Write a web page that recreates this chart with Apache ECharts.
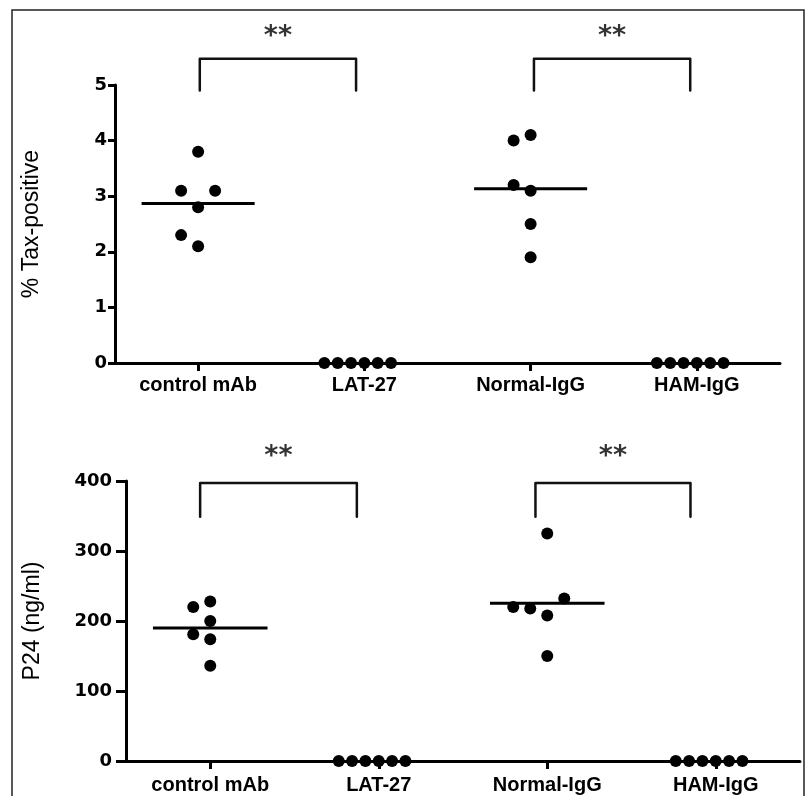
<!DOCTYPE html>
<html>
<head>
<meta charset="utf-8">
<script src="https://cdn.jsdelivr.net/npm/echarts@6/dist/echarts.min.js"></script>
<style>
html, body { margin: 0; padding: 0; background: #fff; }
#main { width: 807px; height: 796px; }
</style>
</head>
<body>
<div id="main"></div>
<script>
// groups on both panels
var groups = ['control mAb', 'LAT-27', 'Normal-IgG', 'HAM-IgG'];

// top panel: % Tax-positive
var taxControl = [3.8, 2.8, 3.1, 3.1, 2.1, 2.3];
var taxLat = [0, 0, 0, 0, 0, 0];
var taxNormal = [4.1, 4.0, 3.1, 3.2, 2.5, 1.9];
var taxHam = [0, 0, 0, 0, 0, 0];
var taxTicks = [0, 1, 2, 3, 4, 5];

// bottom panel: P24 (ng/ml)
var p24Control = [228, 220, 200, 174, 181, 136];
var p24Lat = [0, 0, 0, 0, 0, 0];
var p24Normal = [325, 208, 218, 232, 220, 150];
var p24Ham = [0, 0, 0, 0, 0, 0];
var p24Ticks = [0, 100, 200, 300, 400];

// significance brackets: [x from, x to] in group units, [leg bottom, top] in y units
var taxBracketX = [[0.01, 0.95], [2.02, 2.96]];
var taxBracketY = [4.9, 5.47];
var taxStarY = 5.86;
var p24BracketX = [[-0.06, 0.87], [1.93, 2.85]];
var p24BracketY = [349, 397];
var p24StarY = 434;

var taxGroups = [taxControl, taxLat, taxNormal, taxHam];
var p24Groups = [p24Control, p24Lat, p24Normal, p24Ham];

var chart = echarts.init(document.getElementById('main'));

function mean(a) {
  var s = 0;
  a.forEach(function (v) { s += v; });
  return s / a.length;
}

function meanLines(sets, xIdx, yIdx) {
  var out = [];
  sets.forEach(function (vals, g) {
    var m = mean(vals);
    if (m <= 0) return;
    out.push({
      type: 'line', xAxisIndex: xIdx, yAxisIndex: yIdx,
      data: [[g - 0.34, m], [g + 0.34, m]],
      symbol: 'none', silent: true, z: 3,
      lineStyle: { color: '#000', width: 3 }
    });
  });
  return out;
}

function brackets(bx, by, starY, xIdx, yIdx) {
  var out = [];
  bx.forEach(function (b) {
    out.push({
      type: 'line', xAxisIndex: xIdx, yAxisIndex: yIdx, clip: false,
      data: [[b[0], by[0]], [b[0], by[1]], [b[1], by[1]], [b[1], by[0]]],
      symbol: 'none', silent: true,
      lineStyle: { color: '#111', width: 2.5, join: 'round', cap: 'round' }
    });
    out.push({
      type: 'scatter', xAxisIndex: xIdx, yAxisIndex: yIdx, clip: false,
      data: [[(b[0] + b[1]) / 2, starY]], symbolSize: 0, silent: true,
      label: {
        show: true, position: 'inside', formatter: '**',
        fontFamily: 'DejaVu Sans', fontWeight: 'bold', fontSize: 27, color: '#000'
      }
    });
  });
  return out;
}

function points(sets, offsets) {
  var d = [];
  sets.forEach(function (vals, g) {
    vals.forEach(function (v, i) {
      d.push([g + (offsets ? offsets[g][i] : 0), v]);
    });
  });
  return d;
}

var catAxis = function (gridIndex, margin) {
  return {
    type: 'category', gridIndex: gridIndex, data: groups, boundaryGap: true,
    axisLine: { show: true, onZero: false, lineStyle: { color: '#000', width: 3 } },
    axisTick: { show: true, alignWithLabel: true, length: 8, lineStyle: { color: '#000', width: 3 } },
    axisLabel: {
      margin: margin, color: '#000', fontFamily: 'Liberation Sans',
      fontWeight: 'bold', fontSize: 20
    }
  };
};

var valXAxis = function (gridIndex) {
  return { type: 'value', gridIndex: gridIndex, min: -0.5, max: 3.5, show: false };
};

var valYAxis = function (gridIndex, max, interval, name, nameGap, tickLen, margin) {
  return {
    type: 'value', gridIndex: gridIndex, min: 0, max: max, interval: interval,
    name: name, nameLocation: 'middle', nameGap: nameGap,
    nameTextStyle: { fontFamily: 'Liberation Sans', fontSize: 23, color: '#000' },
    axisLine: { show: true, onZero: false, lineStyle: { color: '#000', width: 3 } },
    axisTick: { show: true, length: tickLen, lineStyle: { color: '#000', width: 3 } },
    axisLabel: {
      margin: margin, color: '#000', fontFamily: 'DejaVu Sans',
      fontWeight: 'bold', fontSize: 18
    },
    splitLine: { show: false }
  };
};

var dotStyle = { color: '#000', opacity: 1 };

var option = {
  animation: false,
  backgroundColor: '#fff',
  graphic: [{
    type: 'rect', shape: { x: 12, y: 10, width: 792, height: 810 },
    style: { fill: 'none', stroke: '#222', lineWidth: 1.5 }, silent: true
  }],
  grid: [
    { left: 115, right: 27, top: 85, height: 278 },
    { left: 126, right: 7, top: 481, height: 280 }
  ],
  xAxis: [catAxis(0, 12), valXAxis(0), catAxis(1, 14), valXAxis(1)],
  yAxis: [
    valYAxis(0, taxTicks[taxTicks.length - 1], taxTicks[1] - taxTicks[0], '% Tax-positive', 72, 7, 8),
    valYAxis(1, p24Ticks[p24Ticks.length - 1], p24Ticks[1] - p24Ticks[0], 'P24 (ng/ml)', 82, 10, 14)
  ],
  series: [
    { id: 'taxDots', type: 'scatter', xAxisIndex: 1, yAxisIndex: 0, clip: false,
      symbolSize: 12, itemStyle: dotStyle, z: 4, data: points(taxGroups) },
    { id: 'p24Dots', type: 'scatter', xAxisIndex: 3, yAxisIndex: 1, clip: false,
      symbolSize: 12, itemStyle: dotStyle, z: 4, data: points(p24Groups) }
  ]
    .concat(meanLines(taxGroups, 1, 0))
    .concat(meanLines(p24Groups, 3, 1))
    .concat(brackets(taxBracketX, taxBracketY, taxStarY, 1, 0))
    .concat(brackets(p24BracketX, p24BracketY, p24StarY, 3, 1))
};

chart.setOption(option);

// spread tied / close points sideways, like a column scatter plot
function swarm(vals, xIdx, yIdx) {
  var step = 17, minDist = 17, limit = 40;
  var unit = chart.convertToPixel({ xAxisIndex: xIdx }, 1) - chart.convertToPixel({ xAxisIndex: xIdx }, 0);
  var placed = [];
  vals.forEach(function (v) {
    var py = chart.convertToPixel({ yAxisIndex: yIdx }, v);
    var dx = 0;
    for (var k = 0; k < 30; k++) {
      var n = Math.ceil(k / 2) * (k % 2 ? -1 : 1);
      dx = n * step;
      var ok = true;
      placed.forEach(function (p) {
        if (Math.hypot(dx - p[0], py - p[1]) < minDist - 0.01) ok = false;
      });
      if (ok) break;
    }
    placed.push([dx, py]);
  });
  var ext = 0;
  placed.forEach(function (p) { ext = Math.max(ext, Math.abs(p[0])); });
  var f = ext > limit ? limit / ext : 1;
  return placed.map(function (p) { return p[0] * f / unit; });
}

chart.setOption({
  series: [
    { id: 'taxDots', data: points(taxGroups, taxGroups.map(function (g) { return swarm(g, 1, 0); })) },
    { id: 'p24Dots', data: points(p24Groups, p24Groups.map(function (g) { return swarm(g, 3, 1); })) }
  ]
});
</script>
</body>
</html>
